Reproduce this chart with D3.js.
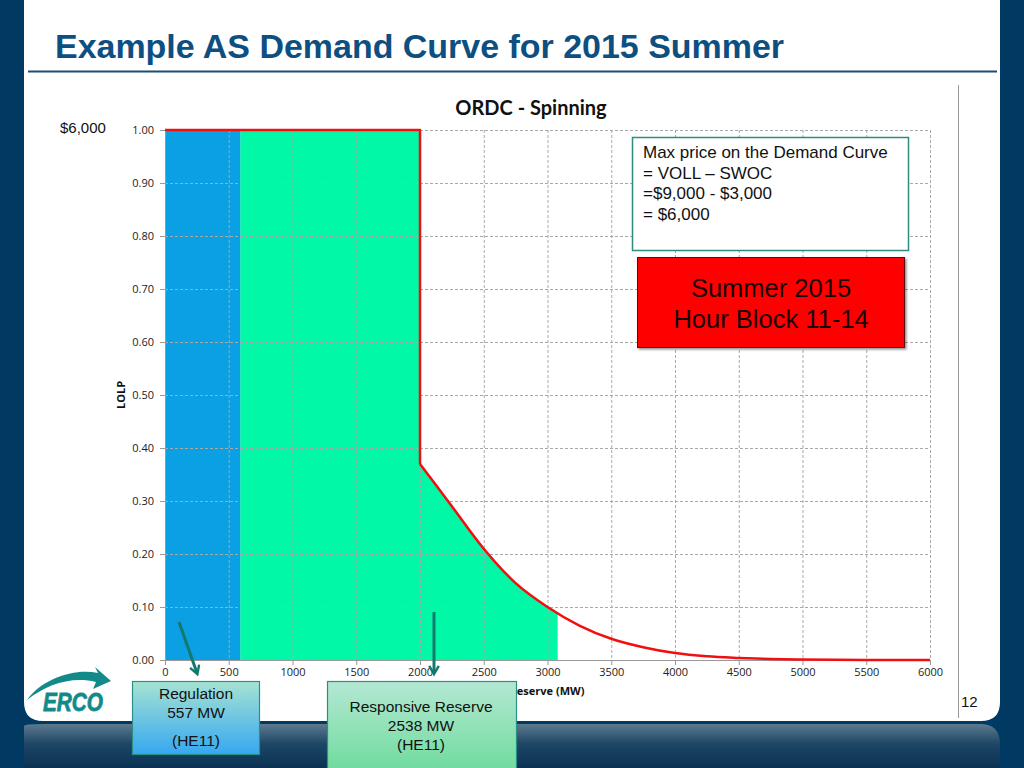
<!DOCTYPE html>
<html>
<head>
<meta charset="utf-8">
<script src="https://cdnjs.cloudflare.com/ajax/libs/d3/7.8.5/d3.min.js"></script>
<style>
  html, body { margin: 0; padding: 0; background: #003a63; }
  svg { display: block; }
</style>
</head>
<body>
<svg id="slide" width="1024" height="768"></svg>
<script>
// --- data ---
var xTicks = [0, 500, 1000, 1500, 2000, 2500, 3000, 3500, 4000, 4500, 5000, 5500, 6000];
var yTicks = [0, 0.1, 0.2, 0.3, 0.4, 0.5, 0.6, 0.7, 0.8, 0.9, 1.0];

// flat top of the curve, then the drop at 2000 MW
var stepMW   = [0, 2000, 2000];
var stepLOLP = [1, 1, 0.37];

// decaying tail of the ORDC curve
var tailMW   = [2000, 2250, 2500, 2750, 3000, 3250, 3500, 3750, 4000, 4250, 4500, 4750, 5000, 5500, 6000];
var tailLOLP = [0.37, 0.29, 0.21, 0.145, 0.10, 0.065, 0.04, 0.024, 0.013, 0.007, 0.004, 0.002, 0.001, 0, 0];

var regulationEnd = 590;   // blue block right edge (MW)
var spinFillEnd = 3080;    // green fill right edge (MW)

var maxPriceLines = ['Max price on the Demand Curve', '= VOLL \u2013 SWOC', '=$9,000 - $3,000', '= $6,000'];
var seasonLines = ['Summer 2015', 'Hour Block 11-14'];
var regLines = ['Regulation', '557 MW', '(HE11)'];
var rrsLines = ['Responsive Reserve', '2538 MW', '(HE11)'];

var svg = d3.select('#slide');
var defs = svg.append('defs');

function translate(x, y) { return 'translate(' + x + ',' + y + ')'; }

// --- slide background ---
var band = defs.append('linearGradient').attr('id', 'band').attr('x1', 0).attr('y1', 0).attr('x2', 0).attr('y2', 1);
band.append('stop').attr('offset', '0%').attr('stop-color', '#5d7a8e');
band.append('stop').attr('offset', '45%').attr('stop-color', '#1d4766');
band.append('stop').attr('offset', '100%').attr('stop-color', '#0a3152');

svg.append('rect').attr('x', 0).attr('y', 0).attr('width', 1024).attr('height', 768).attr('fill', '#003a63');
svg.append('path')
  .attr('d', 'M24,726 Q24,724 44,724 L980,724 Q1000,724 1000,744 L1000,768 L24,768 Z')
  .attr('fill', 'url(#band)');
svg.append('path')
  .attr('d', 'M24,0 L1000,0 L1000,702 Q1000,721 981,721 L43,721 Q24,721 24,702 Z')
  .attr('fill', '#ffffff');

// title
svg.append('text').attr('x', 55).attr('y', 58)
  .attr('font-family', 'Liberation Sans Narrow, Liberation Sans, Arial, sans-serif').attr('font-weight', 'bold')
  .attr('font-size', 34).attr('fill', '#0d4f80')
  .attr('textLength', 729).attr('lengthAdjust', 'spacingAndGlyphs')
  .text('Example AS Demand Curve for 2015 Summer');
svg.append('line').attr('x1', 28).attr('x2', 997).attr('y1', 71.5).attr('y2', 71.5)
  .attr('stroke', '#1c4d75').attr('stroke-width', 2);

// right divider + page number
svg.append('line').attr('x1', 958.5).attr('x2', 958.5).attr('y1', 85).attr('y2', 718)
  .attr('stroke', '#999').attr('stroke-width', 1);
svg.append('text').attr('x', 961).attr('y', 707)
  .attr('font-family', 'Liberation Sans, Arial, sans-serif').attr('font-size', 15).attr('fill', '#111')
  .text('12');

// --- chart ---
var x = d3.scaleLinear().domain([0, 6000]).range([165, 930]);
var y = d3.scaleLinear().domain([0, 1]).range([660, 130]);

var chart = svg.append('g');

defs.append('clipPath').attr('id', 'spinClip').append('rect')
  .attr('x', x(regulationEnd)).attr('y', y(1) - 2)
  .attr('width', x(spinFillEnd) - x(regulationEnd)).attr('height', y(0) - y(1) + 2);

var stepPts = stepMW.map(function(d, i) { return [d, stepLOLP[i]]; });
var tailPts = tailMW.map(function(d, i) { return [d, tailLOLP[i]]; });

var areaStep = d3.area().x(function(d) { return x(d[0]); }).y0(y(0)).y1(function(d) { return y(d[1]); });
var areaTail = d3.area().x(function(d) { return x(d[0]); }).y0(y(0)).y1(function(d) { return y(d[1]); })
  .curve(d3.curveMonotoneX);

var fillG = chart.append('g').attr('clip-path', 'url(#spinClip)');
fillG.append('path').attr('d', areaStep(stepPts.slice(0, 2))).attr('fill', '#00f8a6');
fillG.append('path').attr('d', areaTail(tailPts)).attr('fill', '#00f8a6');

// regulation block
chart.append('rect')
  .attr('x', x(0)).attr('y', y(1))
  .attr('width', x(regulationEnd) - x(0)).attr('height', y(0) - y(1))
  .attr('fill', '#0b9fe3');

// grid
chart.append('g').selectAll('line').data(xTicks.slice(1)).enter().append('line')
  .attr('x1', function(d) { return x(d) + 0.5; }).attr('x2', function(d) { return x(d) + 0.5; })
  .attr('y1', y(1)).attr('y2', y(0))
  .attr('stroke', '#a8a8a8').attr('stroke-width', 1).attr('stroke-dasharray', '3,2');
chart.append('g').selectAll('line').data(yTicks.slice(1)).enter().append('line')
  .attr('x1', x(0)).attr('x2', x(6000))
  .attr('y1', function(d) { return y(d) + 0.5; }).attr('y2', function(d) { return y(d) + 0.5; })
  .attr('stroke', '#a8a8a8').attr('stroke-width', 1).attr('stroke-dasharray', '3,2');

// axes
var yAxis = chart.append('g').attr('transform', translate(x(0), 0))
  .call(d3.axisLeft(y).tickValues(yTicks).tickFormat(d3.format('.2f')).tickSize(5).tickPadding(6));
var xAxis = chart.append('g').attr('transform', translate(0, y(0)))
  .call(d3.axisBottom(x).tickValues(xTicks).tickFormat(d3.format('d')).tickSize(5).tickPadding(3));
[xAxis, yAxis].forEach(function(a) {
  a.select('.domain').attr('stroke', '#999');
  a.selectAll('.tick line').attr('stroke', '#999');
  a.selectAll('.tick text').attr('fill', '#222')
    .attr('font-family', 'Open Sans, sans-serif').attr('font-size', 11);
});

// curve
var line = d3.line().x(function(d) { return x(d[0]); }).y(function(d) { return y(d[1]); });
var lineTail = d3.line().x(function(d) { return x(d[0]); }).y(function(d) { return y(d[1]); })
  .curve(d3.curveMonotoneX);
chart.append('path').attr('d', line(stepPts)).attr('fill', 'none')
  .attr('stroke', '#f01010').attr('stroke-width', 2.5).attr('stroke-linejoin', 'round');
chart.append('path').attr('d', lineTail(tailPts)).attr('fill', 'none')
  .attr('stroke', '#f01010').attr('stroke-width', 2.5).attr('stroke-linejoin', 'round');

// chart labels
svg.append('text').attr('x', 531).attr('y', 115).attr('text-anchor', 'middle')
  .attr('font-family', 'Lato, sans-serif').attr('font-weight', 'bold').attr('font-size', 20).attr('fill', '#111')
  .text('ORDC - Spinning');
svg.append('text').attr('transform', translate(125, 395) + ' rotate(-90)').attr('text-anchor', 'middle')
  .attr('font-family', 'Open Sans, sans-serif').attr('font-weight', 'bold').attr('font-size', 11).attr('fill', '#111')
  .text('LOLP');
svg.append('text').attr('x', 547).attr('y', 695).attr('text-anchor', 'middle')
  .attr('font-family', 'Open Sans, sans-serif').attr('font-weight', 'bold').attr('font-size', 11).attr('fill', '#111')
  .text('Reserve (MW)');
svg.append('text').attr('x', 60).attr('y', 133)
  .attr('font-family', 'Liberation Sans, Arial, sans-serif').attr('font-size', 15).attr('fill', '#111')
  .text('$6,000');

// max price note
svg.append('rect').attr('x', 632.5).attr('y', 137.5).attr('width', 276).attr('height', 113)
  .attr('fill', '#fff').attr('stroke', '#2e8d80').attr('stroke-width', 1.5);
svg.append('g').selectAll('text').data(maxPriceLines).enter().append('text')
  .attr('x', 643).attr('y', function(d, i) { return 158 + i * 20.5; })
  .attr('font-family', 'Liberation Sans, Arial, sans-serif').attr('font-size', 17).attr('fill', '#111')
  .text(function(d) { return d; });

// season box
defs.append('filter').attr('id', 'shadow').append('feDropShadow')
  .attr('dx', 1.5).attr('dy', 1.5).attr('stdDeviation', 1.2).attr('flood-color', '#000').attr('flood-opacity', 0.45);
svg.append('rect').attr('x', 637.5).attr('y', 257.5).attr('width', 267).attr('height', 90)
  .attr('fill', '#ff0000').attr('stroke', '#5a0a0a').attr('stroke-width', 1).attr('filter', 'url(#shadow)');
svg.append('g').selectAll('text').data(seasonLines).enter().append('text')
  .attr('x', 771).attr('y', function(d, i) { return 297 + i * 31; }).attr('text-anchor', 'middle')
  .attr('font-family', 'Liberation Sans, Arial, sans-serif').attr('font-size', 25.5).attr('fill', '#1a0505')
  .text(function(d) { return d; });

// ERCOT logo (cut off at the right in the slide)
var logo = svg.append('g');
logo.append('path')
  .attr('d', 'M27,700 C42,679 74,668 98,673 L95,667 L111,681 L93,689 L96,682 C72,676 47,684 27,700 Z')
  .attr('fill', '#138a8a');
logo.append('text').attr('x', 43).attr('y', 711)
  .attr('font-family', 'Liberation Sans, Arial, sans-serif').attr('font-weight', 'bold').attr('font-style', 'italic')
  .attr('font-size', 26).attr('fill', '#138a8a').attr('stroke', '#138a8a').attr('stroke-width', 0.8)
  .attr('textLength', 60).attr('lengthAdjust', 'spacingAndGlyphs')
  .text('ERCO');

// arrows
defs.append('marker').attr('id', 'head').attr('viewBox', '0 0 10 10').attr('refX', 7).attr('refY', 5)
  .attr('markerWidth', 4).attr('markerHeight', 4).attr('orient', 'auto')
  .append('path').attr('d', 'M1,1 L8,5 L1,9').attr('fill', 'none').attr('stroke', '#127a6c').attr('stroke-width', 2);
svg.append('line').attr('x1', 179).attr('y1', 622).attr('x2', 197).attr('y2', 673)
  .attr('stroke', '#127a6c').attr('stroke-width', 3).attr('marker-end', 'url(#head)');
svg.append('line').attr('x1', 434).attr('y1', 612).attr('x2', 434).attr('y2', 673)
  .attr('stroke', '#127a6c').attr('stroke-width', 3).attr('marker-end', 'url(#head)');

// callout boxes
var regGrad = defs.append('linearGradient').attr('id', 'regGrad').attr('x1', 0).attr('y1', 0).attr('x2', 0).attr('y2', 1);
regGrad.append('stop').attr('offset', '0%').attr('stop-color', '#a6e3d2');
regGrad.append('stop').attr('offset', '100%').attr('stop-color', '#36a8f0');
var rrsGrad = defs.append('linearGradient').attr('id', 'rrsGrad').attr('x1', 0).attr('y1', 0).attr('x2', 0).attr('y2', 1);
rrsGrad.append('stop').attr('offset', '0%').attr('stop-color', '#b4e8d4');
rrsGrad.append('stop').attr('offset', '100%').attr('stop-color', '#6fdb9c');

svg.append('rect').attr('x', 132.5).attr('y', 681.5).attr('width', 127).attr('height', 73)
  .attr('fill', 'url(#regGrad)').attr('stroke', '#2b8f85').attr('stroke-width', 1.2);
svg.append('g').selectAll('text').data(regLines).enter().append('text')
  .attr('x', 196).attr('y', function(d, i) { return [699, 718, 746][i]; }).attr('text-anchor', 'middle')
  .attr('font-family', 'Liberation Sans, Arial, sans-serif').attr('font-size', 15.5).attr('fill', '#111')
  .text(function(d) { return d; });

svg.append('rect').attr('x', 327.5).attr('y', 681.5).attr('width', 189).attr('height', 90)
  .attr('fill', 'url(#rrsGrad)').attr('stroke', '#2b8f85').attr('stroke-width', 1.2);
svg.append('g').selectAll('text').data(rrsLines).enter().append('text')
  .attr('x', 421).attr('y', function(d, i) { return 712 + i * 19; }).attr('text-anchor', 'middle')
  .attr('font-family', 'Liberation Sans, Arial, sans-serif').attr('font-size', 15.5).attr('fill', '#111')
  .text(function(d) { return d; });
</script>
</body>
</html>
